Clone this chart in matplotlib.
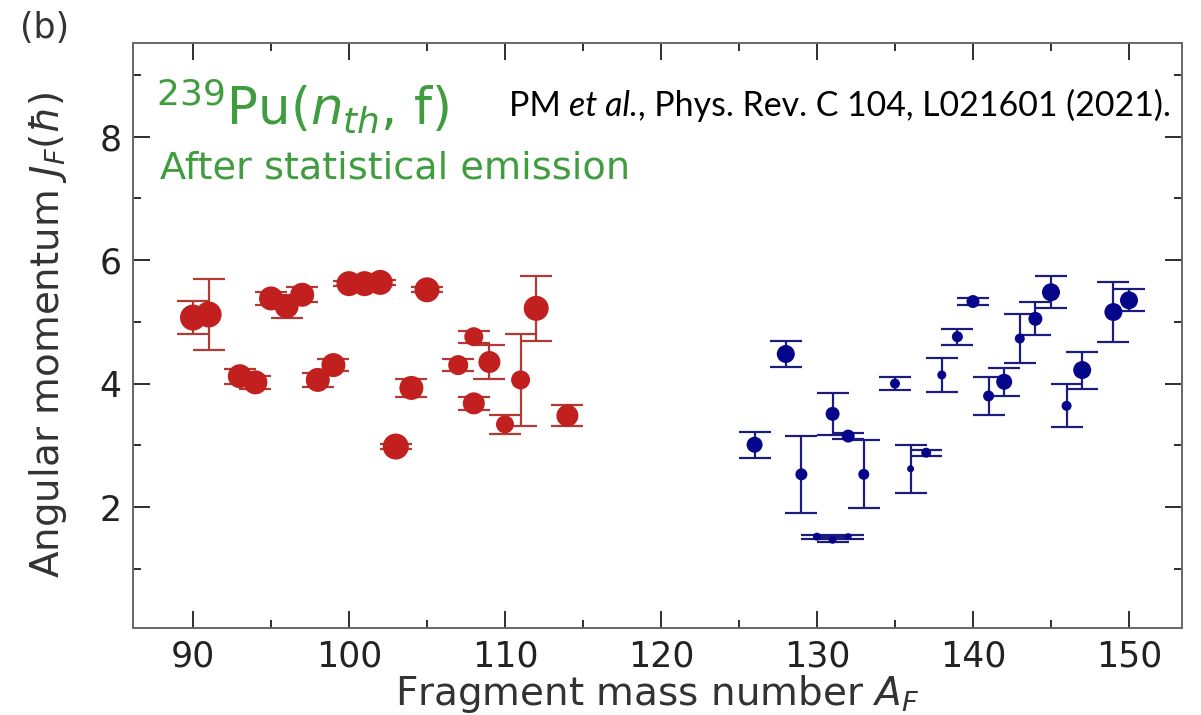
import matplotlib
matplotlib.use("Agg")
import matplotlib.pyplot as plt
import numpy as np

# Light fragments
light_A = [90, 91, 93, 94, 95, 96, 97, 98, 99, 100, 101, 102, 103, 104, 105,
           107, 108, 108, 109, 110, 111, 112, 114]
light_J = [5.07, 5.12, 4.12, 4.02, 5.38, 5.25, 5.44, 4.06, 4.30, 5.62, 5.62, 5.64,
           2.98, 3.93, 5.52, 4.30, 4.76, 3.68, 4.35, 3.34, 4.06, 5.22, 3.48]
light_err = [0.27, 0.57, 0.12, 0.10, 0.10, 0.18, 0.12, 0.12, 0.10, 0.04, 0.04, 0.04,
             0.04, 0.15, 0.04, 0.10, 0.10, 0.10, 0.28, 0.15, 0.75, 0.53, 0.17]
light_ms = [26, 26, 24, 24, 24, 24, 24, 24, 24, 25, 25, 25,
            26, 24, 25, 20, 19, 22, 22, 18, 19, 25, 22]

# Heavy fragments
heavy_A = [126, 128, 129, 130, 131, 131, 132, 132, 133, 135, 136, 137, 138, 139,
           140, 141, 142, 143, 144, 145, 146, 147, 149, 150]
heavy_J = [3.01, 4.48, 2.53, 1.52, 3.51, 1.47, 3.15, 1.52, 2.53, 4.00, 2.62, 2.88,
           4.14, 4.76, 5.33, 3.80, 4.03, 4.73, 5.05, 5.48, 3.64, 4.22, 5.16, 5.35]
heavy_err = [0.21, 0.21, 0.62, 0.03, 0.34, 0.04, 0.05, 0.03, 0.55, 0.10, 0.39, 0.05,
             0.28, 0.13, 0.06, 0.31, 0.23, 0.39, 0.27, 0.26, 0.35, 0.30, 0.49, 0.18]
heavy_ms = [16, 18, 12, 8, 14, 8, 13, 7, 11, 10, 7, 10, 9, 11, 13, 11, 16, 10,
            14, 18, 10, 18, 18, 18]

px = 72.0 / 100.0  # points per pixel at dpi 100

fig = plt.figure(figsize=(12.01, 7.15), dpi=100)
ax = fig.add_axes([0.1107, 0.1217, 0.9842 - 0.1107, 0.9399 - 0.1217])

red = "#c21f1f"
red_err = "#b23a32"
blue = "#06068a"
blue_err = "#1c1c7e"

ax.errorbar(light_A, light_J, yerr=light_err, fmt="none", ecolor=red_err,
            elinewidth=2.2 * px, capsize=16 * px, capthick=2.2 * px, zorder=2)
ax.scatter(light_A, light_J, s=(np.array(light_ms) * px) ** 2, color=red,
           edgecolors="none", zorder=3)

ax.errorbar(heavy_A, heavy_J, yerr=heavy_err, fmt="none", ecolor=blue_err,
            elinewidth=2.2 * px, capsize=16 * px, capthick=2.2 * px, zorder=2)
ax.scatter(heavy_A, heavy_J, s=(np.array(heavy_ms) * px) ** 2, color=blue,
           edgecolors="none", zorder=3)

ax.set_xlim(86.15, 153.4)
ax.set_ylim(0.04, 9.52)
ax.set_xticks(np.arange(90, 151, 10))
ax.set_xticks(np.arange(95, 151, 10), minor=True)
ax.set_yticks([2, 4, 6, 8])
ax.set_yticks([1, 3, 5, 7, 9], minor=True)

for s in ax.spines.values():
    s.set_color("#6a6a6a")
    s.set_linewidth(2.0 * px)

ax.tick_params(which="both", direction="in", top=True, right=True,
               color="#333333", width=2.0 * px, labelsize=25, labelcolor="#222222")
ax.tick_params(which="major", length=17 * px, pad=8)
ax.tick_params(which="minor", length=8 * px)

ax.set_xlabel("Fragment mass number $A_F$", fontsize=28, color="#333333", labelpad=0)
ax.set_ylabel(r"Angular momentum $J_F(\hbar)$", fontsize=28, color="#333333",
              labelpad=22)

green = "#3f9c3f"
ax.text(0.022, 0.858, r"$^{239}$Pu($n_{th}$, f)", transform=ax.transAxes,
        fontsize=37, color=green, ha="left", va="baseline")
ax.text(0.026, 0.768, "After statistical emission", transform=ax.transAxes,
        fontsize=27.5, color=green, ha="left", va="baseline")

# Reference line, set in one family with the "et al." part in italic
cite_kw = dict(fontsize=24.4, color="black", family="Lato", va="bottom", ha="left")
t1 = ax.text(0.358, 0.865, "PM ", transform=ax.transAxes, **cite_kw)
t2 = ax.annotate("et al.", xy=(1, 0), xycoords=t1, style="italic", **cite_kw)
ax.annotate(", Phys. Rev. C 104, L021601 (2021).", xy=(1, 0), xycoords=t2,
            **cite_kw)

fig.text(0.0167, 0.961, "(b)", fontsize=25, color="#333333", ha="left", va="center")

fig.savefig("out.png", dpi=100, facecolor="white")
